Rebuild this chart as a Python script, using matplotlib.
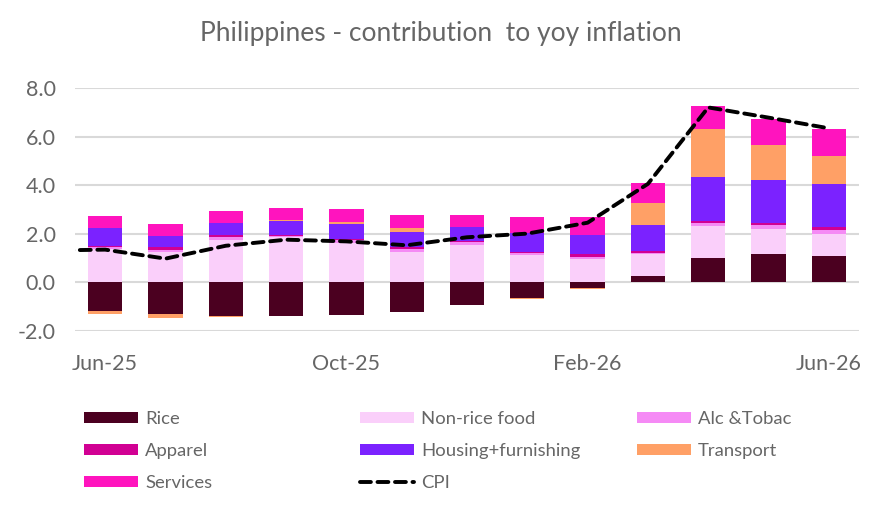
import matplotlib
matplotlib.use("Agg")
import matplotlib.pyplot as plt
import numpy as np
from matplotlib.patches import Patch
from matplotlib.lines import Line2D

months = ["Jun-25", "Jul-25", "Aug-25", "Sep-25", "Oct-25", "Nov-25", "Dec-25",
          "Jan-26", "Feb-26", "Mar-26", "Apr-26", "May-26", "Jun-26"]
rice      = [-1.20, -1.33, -1.41, -1.41, -1.37, -1.25, -0.96, -0.67, -0.26, 0.27, 1.01, 1.14, 1.06]
non_rice  = [1.38, 1.23, 1.75, 1.86, 1.62, 1.26, 1.55, 1.10, 0.97, 0.87, 1.32, 1.06, 0.94]
alc_tob   = [0.06, 0.11, 0.13, 0.05, 0.10, 0.12, 0.09, 0.12, 0.08, 0.08, 0.11, 0.17, 0.16]
apparel   = [0.06, 0.09, 0.08, 0.05, 0.07, 0.06, 0.07, 0.04, 0.09, 0.05, 0.07, 0.07, 0.13]
housing   = [0.75, 0.49, 0.49, 0.54, 0.62, 0.64, 0.58, 0.75, 0.82, 1.10, 1.83, 1.78, 1.76]
transport = [-0.13, -0.15, -0.04, 0.08, 0.08, 0.17, 0.00, -0.04, -0.04, 0.90, 1.97, 1.43, 1.15]
services  = [0.49, 0.49, 0.49, 0.49, 0.53, 0.53, 0.49, 0.69, 0.74, 0.82, 0.95, 1.07, 1.11]
# CPI starts one month earlier (May-25); that point lies just outside the plotted range
cpi_months_offset = -1
cpi = [1.30, 1.34, 0.97, 1.50, 1.75, 1.68, 1.52, 1.85, 2.00, 2.45, 4.05, 7.20, 6.78, 6.34]
tick_labels = ["Jun-25", "Oct-25", "Feb-26", "Jun-26"]

series = [
    ("Rice", rice, "#4B0020"),
    ("Non-rice food", non_rice, "#FACFFA"),
    ("Alc &Tobac", alc_tob, "#F58AF5"),
    ("Apparel", apparel, "#D10093"),
    ("Housing+furnishing", housing, "#7B22FF"),
    ("Transport", transport, "#FFA066"),
    ("Services", services, "#FF14BE"),
]

plt.rcParams['font.family'] = ['Lato', 'DejaVu Sans']
txt = "#666666"

fig = plt.figure(figsize=(8.82, 5.11), dpi=100)
ax = fig.add_axes([75/882, 1-330.7/511, (859-75)/882, (330.7-88)/511])

x = np.arange(len(months))
pos = np.zeros(len(months))
neg = np.zeros(len(months))
handles = {}
for name, vals, col in series:
    v = np.array(vals)
    bottoms = np.where(v >= 0, pos, neg)
    ax.bar(x, v, bottom=bottoms, width=0.57, color=col, zorder=2)
    pos = np.where(v >= 0, pos + v, pos)
    neg = np.where(v < 0, neg + v, neg)
    handles[name] = Patch(facecolor=col, edgecolor='none')

cx = np.arange(len(cpi)) + cpi_months_offset
ax.plot(cx, cpi, color="black", lw=2.8, dashes=(2.8, 1.7), dash_capstyle='round', zorder=3)
handles["CPI"] = Line2D([], [], color="black", lw=2.8, dashes=(2.8, 1.7), dash_capstyle='round')

ax.set_xlim(-0.5, 12.5)
ax.set_ylim(-2, 8)
ax.set_yticks(np.arange(-2, 8.1, 2))
ax.set_yticklabels([f"{t:.1f}" for t in np.arange(-2, 8.1, 2)])
ax.set_xticks([months.index(m) for m in tick_labels])
ax.set_xticklabels(tick_labels)
ax.tick_params(axis='both', length=0, labelsize=15.5, colors=txt)
ax.tick_params(axis='x', pad=17)
ax.tick_params(axis='y', pad=14)
ax.grid(axis='y', color="#d9d9d9", lw=1.5, zorder=0)
ax.set_axisbelow(True)
for s in ax.spines.values():
    s.set_visible(False)

fig.text(0.5, 1-33/511, "Philippines - contribution  to yoy inflation", ha='center', va='center',
         fontsize=19, color=txt)

cols = [["Rice", "Apparel", "Services"],
        ["Non-rice food", "Housing+furnishing", "CPI"],
        ["Alc &Tobac", "Transport"]]
col_x = [84, 360, 637]
for cx_px, names in zip(col_x, cols):
    leg = fig.legend([handles[n] for n in names], names, loc='upper left',
                     bbox_to_anchor=(cx_px/882, 1-411/511), frameon=False,
                     fontsize=13.3, handlelength=2.9, handleheight=0.55,
                     handletextpad=0.4, labelspacing=0.86, borderpad=0, borderaxespad=0)
    for t in leg.get_texts():
        t.set_color(txt)

fig.savefig("out.png", dpi=100)
